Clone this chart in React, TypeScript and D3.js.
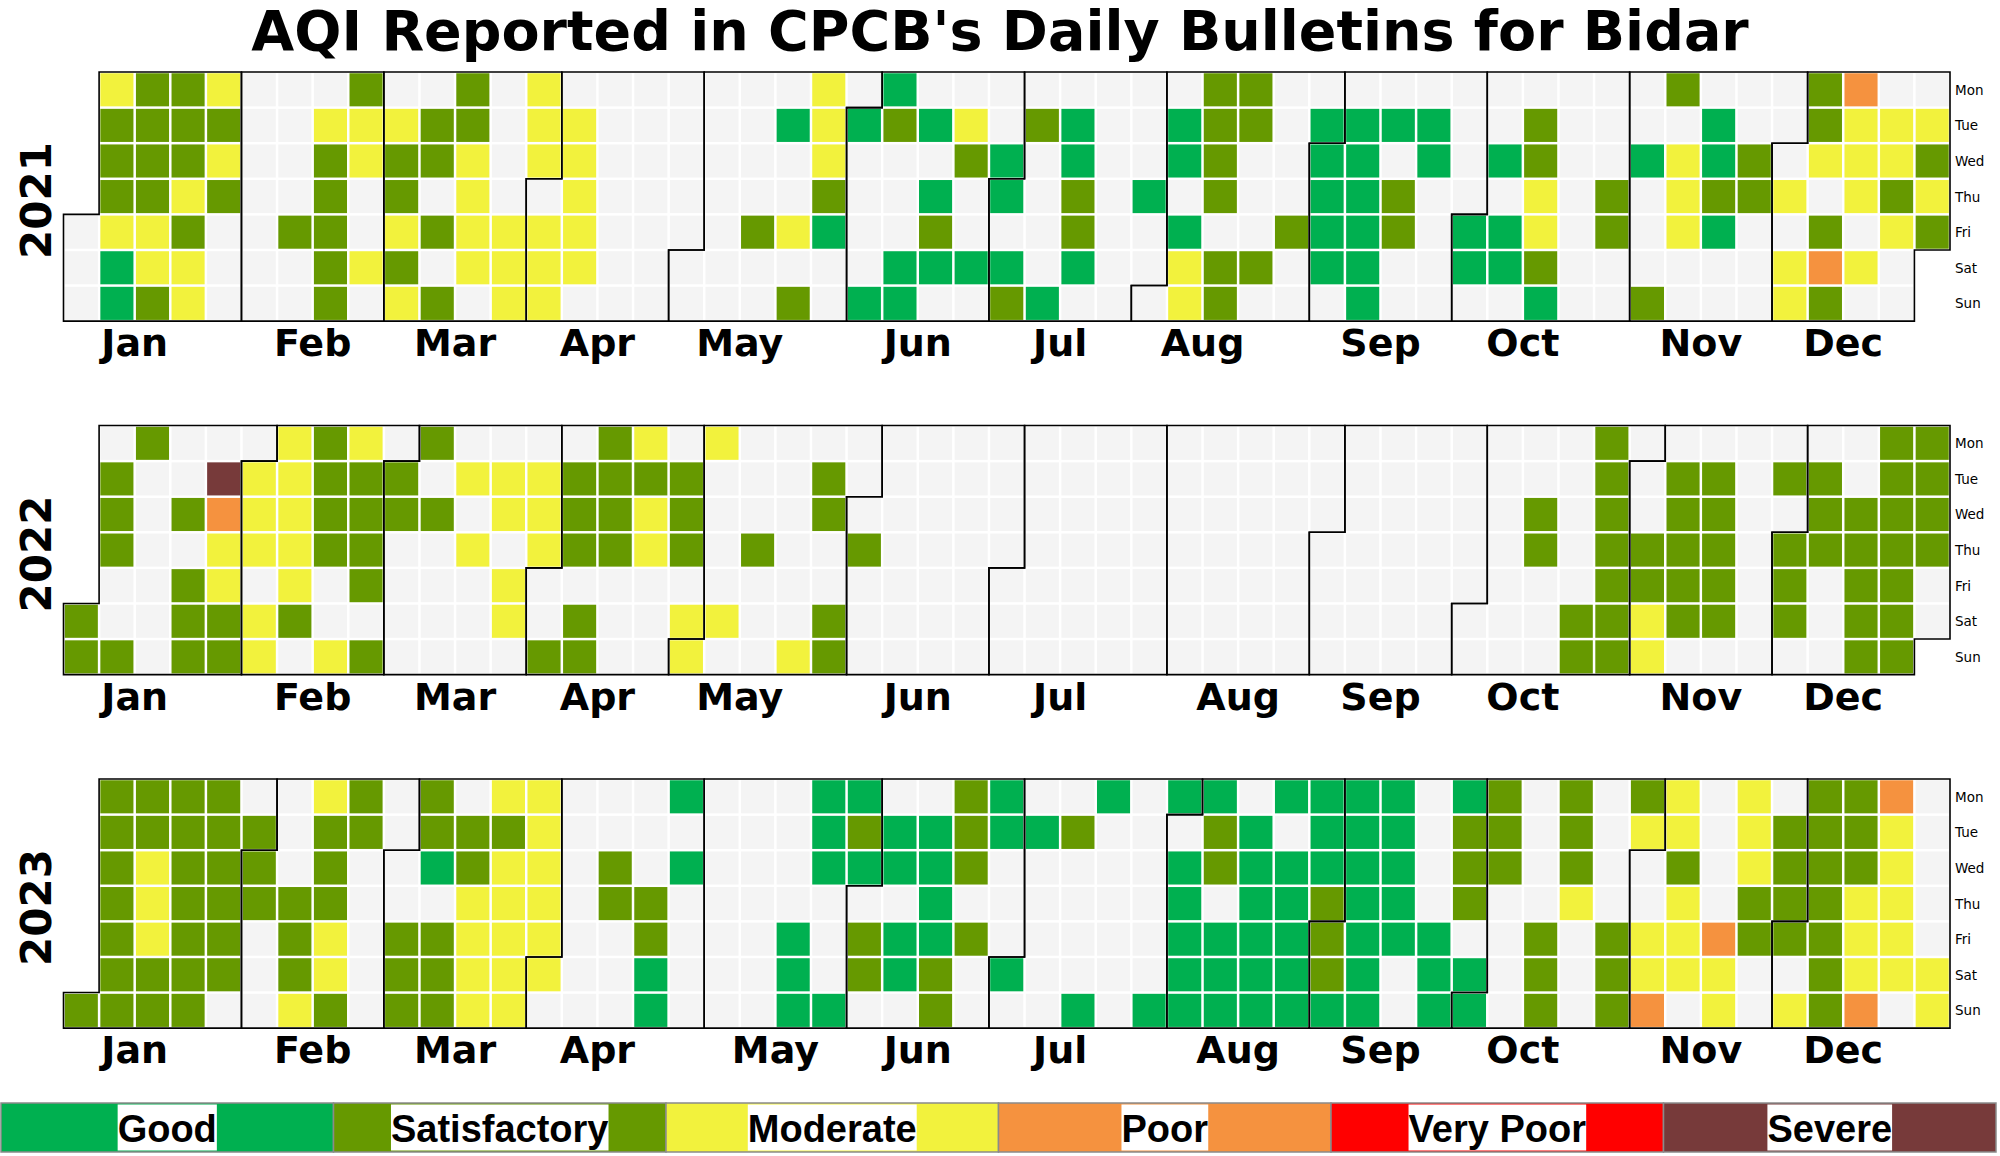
import { useEffect, useRef } from "react";
import * as d3 from "d3";

const years = [2021, 2022, 2023];
const monthLabels = ["Jan", "Feb", "Mar", "Apr", "May", "Jun", "Jul", "Aug", "Sep", "Oct", "Nov", "Dec"];
const weekdayLabels = ["Mon", "Tue", "Wed", "Thu", "Fri", "Sat", "Sun"];

const categories = ["Good", "Satisfactory", "Moderate", "Poor", "Very Poor", "Severe"];
const categoryCodes = ["G", "S", "M", "P", "V", "X"];
const categoryColors = ["#00b050", "#669900", "#f2f23d", "#f5923f", "#ff0000", "#773a3a"];
const noDataColor = "#f4f4f4";

// one string per month, one char per day ("." = no bulletin); spaces are only for reading
const aqi2021 = [
  "... MSSSMGG SSSSMMS SSSMSMM MSMS...",
  "....... ....S.. .MSSSSS SMM..M.",
  ".MSSMSM .SS.S.S SSMMMM. ....MMM MMM",
  ".MMM .MMMMM. ....... ....... .....",
  ".. ....... ....S.. .G..M.S MMMSG.. .",
  "G....G GS...GG .G.GSG. .MS..G. ..G",
  "G.GS .S....G .GGSSG. ....... ...G..",
  ". .GG.GMM SSSS.SS SS...S. ....S.. .G",
  "GGGG. .GGGGGG .G.SS.. .GG.... ....",
  "GG. ..G.GG. .SSMMSG ....... ...SS..",
  "..G...S S.MMM.. .GGSG.. ..SS... ..",
  ".M.MM SSM.SPS PMMM.M. .MMSM.. .MSMS",
];

const aqi2022 = [
  "SS .SSS..S S...... ..S.SSS .XPMMSS .",
  "MMM.MM MMMMMS. SSSS..M MSSSS.S .",
  "SS.... S.S.... .M.M... .MM.MM. .MMM",
  "..S .SSS.SS SSSS... MSMM... .SSS.M",
  "M M....M. ...S... ......M .SS..SS ..",
  ".S... ....... ....... ....... ....",
  "... ....... ....... ....... .......",
  "....... ....... ....... ....... ...",
  ".... ....... ....... ....... .....",
  ".. ....... ..SS... .....SS SSSSSSS .",
  "..SSMM .SSSSS. .SSSSS. ....... .S.",
  "SSS. .SSS... ..SSSSS SSSSSSS SSSS..",
];

const aqi2023 = [
  "S SSSSSSS SSMMMSS SSSSSSS SSSSSS. .S",
  "SS... ...SSSM MSSSMMS SS..... ..",
  "..SSS SSG.SSS .SSMMMM MSMMMMM MMMMM",
  "M. ....... ..SS... ...SSGG G.G....",
  "....... ....... ....GGG GGG...G GSG",
  ".SS. .GG.GG. .GGGGSS SSS.S.. GG...",
  "G. .G..... .S....G G...... ......G G",
  ".GGGGG GSS.GGG .GGGGGG G.GGGGG GGGS",
  "SSG GGGGGGG GGGGG.. ....GGG GSSS.G",
  "G SSS.... ....SSS SSSM... ....SSS SM",
  "..MMP MMSMMM. ....PMM MMMSS.. .SSS",
  "S.M SSSSSSS SSSMMMP PMMMMM. .....MM",
];

const aqiByYear = [aqi2021, aqi2022, aqi2023];

const width = 2000;
const height = 1156;

const weekCol = (d: Date) => d3.timeMonday.count(d3.timeYear(d), d);
const weekRow = (d: Date) => (d.getDay() + 6) % 7;

export default function App() {
  const svgRef = useRef<SVGSVGElement>(null);

  useEffect(() => {
    const svg = d3.select(svgRef.current);
    svg.selectAll("*").remove();

    const x = d3.scaleLinear().domain([0, 53]).range([63.5, 1950]);
    const yearTop = d3.scaleLinear().domain([2021, 2023]).range([72, 779]);
    const cw = x(1) - x(0);
    const color = d3.scaleOrdinal<string, string>().domain(categoryCodes).range(categoryColors).unknown(noDataColor);

    svg
      .append("text")
      .attr("x", width / 2)
      .attr("y", 50)
      .attr("text-anchor", "middle")
      .style("font-family", "DejaVu Sans")
      .style("font-weight", "bold")
      .style("font-size", "55.5px")
      .text("AQI Reported in CPCB's Daily Bulletins for Bidar");

    years.forEach((year, yi) => {
      const top = yearTop(year);
      const y = d3.scaleLinear().domain([0, 7]).range([top, top + 7 * cw]);
      const g = svg.append("g");

      const days: { date: Date; code: string }[] = [];
      aqiByYear[yi].forEach((s, m) => {
        s.replace(/ /g, "")
          .split("")
          .forEach((c, i) => days.push({ date: new Date(year, m, i + 1), code: c }));
      });

      g.selectAll("rect.day")
        .data(days)
        .join("rect")
        .attr("class", "day")
        .attr("x", (d) => x(weekCol(d.date)) + 1.25)
        .attr("y", (d) => y(weekRow(d.date)) + 1.25)
        .attr("width", cw - 2.5)
        .attr("height", cw - 2.5)
        .attr("fill", (d) => color(d.code));

      // month outlines
      d3.range(12).forEach((m) => {
        const first = new Date(year, m, 1);
        const last = new Date(year, m + 1, 0);
        const c0 = weekCol(first), r0 = weekRow(first);
        const c1 = weekCol(last), r1 = weekRow(last);
        const p = d3.path();
        p.moveTo(x(c0), y(r0));
        p.lineTo(x(c0 + 1), y(r0));
        p.lineTo(x(c0 + 1), y(0));
        p.lineTo(x(c1 + 1), y(0));
        p.lineTo(x(c1 + 1), y(r1 + 1));
        p.lineTo(x(c1), y(r1 + 1));
        p.lineTo(x(c1), y(7));
        p.lineTo(x(c0), y(7));
        p.closePath();
        g.append("path")
          .attr("d", p.toString())
          .attr("fill", "none")
          .attr("stroke", "#000")
          .attr("stroke-width", 1.6)
          .attr("stroke-linejoin", "miter");

        g.append("text")
          .attr("x", x(weekCol(new Date(year, m, 15))))
          .attr("y", y(7) + 35)
          .attr("text-anchor", "middle")
          .style("font-family", "DejaVu Sans")
          .style("font-weight", "bold")
          .style("font-size", "38px")
          .text(monthLabels[m]);
      });

      weekdayLabels.forEach((wd, r) => {
        g.append("text")
          .attr("x", 1955)
          .attr("y", y(r + 0.5) + 5)
          .style("font-family", "DejaVu Sans")
          .style("font-size", "13.5px")
          .text(wd);
      });

      g.append("text")
        .attr("transform", `translate(51, ${y(3.5) + 4}) rotate(-90)`)
        .attr("text-anchor", "middle")
        .style("font-family", "DejaVu Sans")
        .style("font-weight", "bold")
        .style("font-size", "42px")
        .text(String(year));
    });

    // legend bar
    const lx = d3.scaleBand<string>().domain(categories).range([1, 1996]);
    const ly0 = 1103;
    const ly1 = 1152;
    const legend = svg.append("g");
    categories.forEach((cat, i) => {
      legend
        .append("rect")
        .attr("x", lx(cat)!)
        .attr("y", ly0)
        .attr("width", lx.bandwidth())
        .attr("height", ly1 - ly0)
        .attr("fill", categoryColors[i])
        .attr("stroke", "#8a8a8a")
        .attr("stroke-width", 1.5);
      const bg = legend.append("rect").attr("fill", "#fff");
      const t = legend
        .append("text")
        .attr("x", lx(cat)! + lx.bandwidth() / 2)
        .attr("y", (ly0 + ly1) / 2 + 14)
        .attr("text-anchor", "middle")
        .style("font-family", "Liberation Sans")
        .style("font-weight", "bold")
        .style("font-size", "38px")
        .text(cat);
      const bb = (t.node() as SVGTextElement).getBBox();
      bg.attr("x", bb.x)
        .attr("y", ly0 + 1.5)
        .attr("width", bb.width)
        .attr("height", ly1 - ly0 - 3);
    });
  }, []);

  return (
    <svg
      ref={svgRef}
      width={width}
      height={height}
      style={{ position: "absolute", left: 0, top: 0, background: "#fff" }}
    ></svg>
  );
}
